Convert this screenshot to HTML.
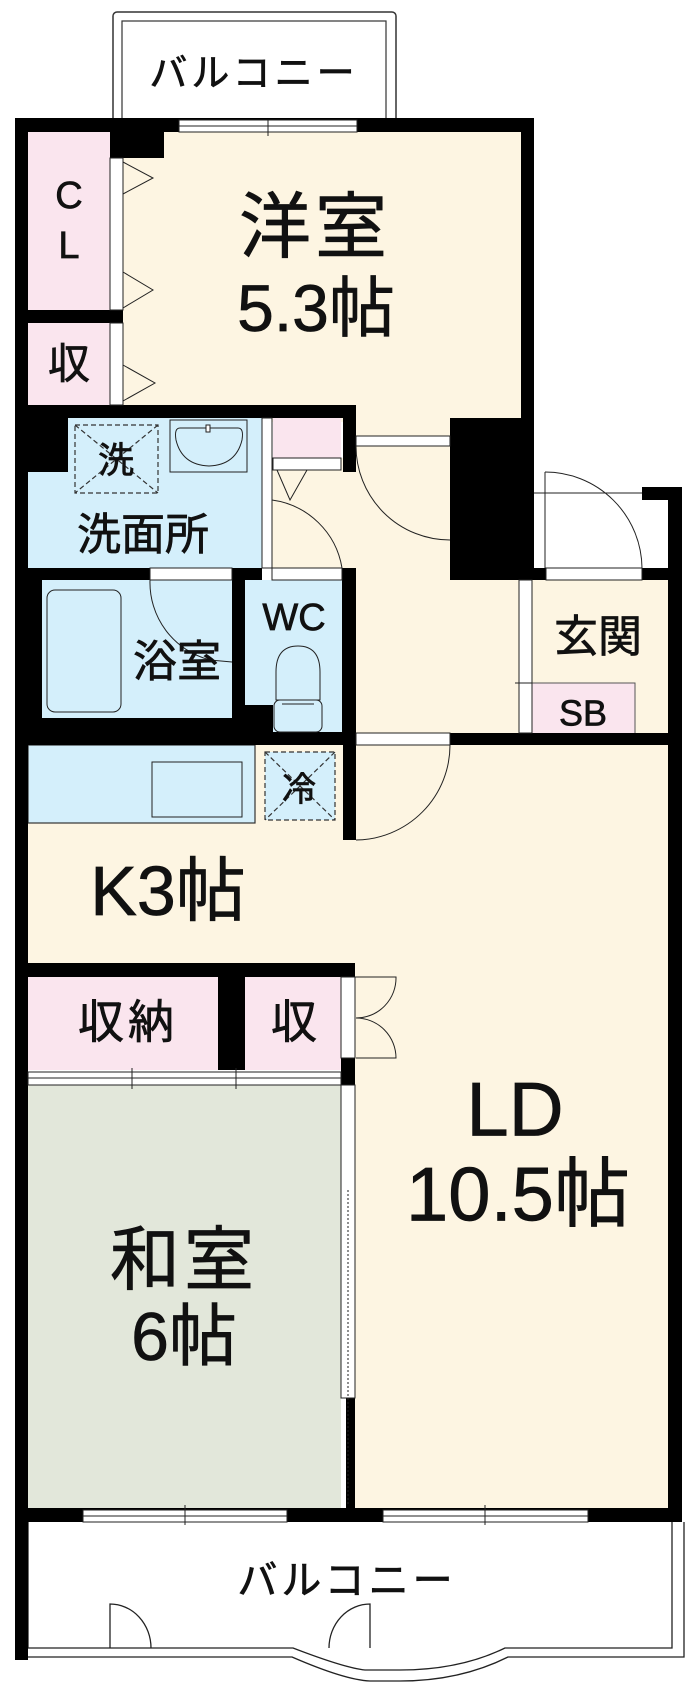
<!DOCTYPE html>
<html><head><meta charset="utf-8"><style>
html,body{margin:0;padding:0;background:#fff;}
svg{display:block;}
text{font-family:"Liberation Sans","Noto Sans CJK JP",sans-serif;fill:#111;stroke:#111;stroke-width:0.7;}
</style></head><body>
<svg width="700" height="1702" viewBox="0 0 700 1702" xmlns="http://www.w3.org/2000/svg">
<rect x="113" y="12" width="283" height="112" rx="4" fill="#fff" stroke="#333" stroke-width="1.5"/>
<rect x="122" y="21" width="264" height="103" fill="#fff" stroke="#333" stroke-width="1.2"/>
<text x="254" y="74" font-size="38" text-anchor="middle" dominant-baseline="central" letter-spacing="4">バルコニー</text>

<rect x="123" y="132" width="398" height="290" fill="#fdf5e2"/>
<rect x="356" y="418" width="165" height="330" fill="#fdf5e2"/>
<rect x="532" y="580" width="136" height="160" fill="#fdf5e2"/>
<rect x="28" y="745" width="640" height="220" fill="#fdf5e2"/>
<rect x="355" y="960" width="313" height="550" fill="#fdf5e2"/>
<rect x="272" y="458" width="84" height="115" fill="#fdf5e2"/>
<rect x="28" y="132" width="82" height="178" fill="#fae5ee"/>
<rect x="28" y="323" width="82" height="82" fill="#fae5ee"/>
<rect x="273" y="418" width="68" height="40" fill="#fae5ee"/>
<rect x="532" y="683" width="103" height="52" fill="#fae5ee" stroke="#555" stroke-width="1"/>
<rect x="28" y="977" width="190" height="93" fill="#fae5ee"/>
<rect x="245" y="977" width="96" height="93" fill="#fae5ee"/>
<rect x="28" y="418" width="234" height="152" fill="#d4effb"/>
<rect x="42" y="580" width="190" height="138" fill="#d4effb"/>
<rect x="245" y="580" width="97" height="152" fill="#d4effb"/>
<rect x="28" y="745" width="227" height="78" fill="#d4effb" stroke="#333" stroke-width="1.2"/>
<rect x="265" y="752" width="70" height="68" fill="#d4effb"/>
<rect x="28" y="1085" width="313" height="425" fill="#e2e7da"/>

<g fill="#000">
<rect x="15" y="118" width="519" height="14"/>
<rect x="15" y="118" width="13" height="1542"/>
<rect x="521" y="118" width="13" height="304"/>
<rect x="110" y="132" width="54" height="26"/>
<rect x="15" y="310" width="108" height="13"/>
<rect x="15" y="405" width="341" height="13"/>
<rect x="28" y="418" width="40" height="54"/>
<rect x="343" y="405" width="13" height="67"/>
<rect x="450" y="418" width="84" height="162"/>
<rect x="15" y="568" width="247" height="12"/>
<rect x="15" y="568" width="27" height="177"/>
<rect x="232" y="580" width="13" height="138"/>
<rect x="342" y="568" width="14" height="177"/>
<rect x="15" y="718" width="257" height="27"/>
<rect x="245" y="705" width="28" height="40"/>
<rect x="272" y="732" width="84" height="13"/>
<rect x="450" y="733" width="232" height="12"/>
<rect x="532" y="568" width="14" height="12"/>
<rect x="642" y="568" width="40" height="12"/>
<rect x="642" y="487" width="40" height="13"/>
<rect x="668" y="487" width="14" height="1035"/>
<rect x="343" y="745" width="13" height="95"/>
<rect x="15" y="963" width="340" height="14"/>
<rect x="218" y="977" width="27" height="93"/>
<rect x="341" y="1058" width="14" height="27"/>
<rect x="346" y="1398" width="9" height="112"/>
<rect x="15" y="1508" width="667" height="14"/>
</g>
<g fill="#fff" stroke="#222" stroke-width="1">
<rect x="110" y="158" width="13" height="152"/>
<rect x="110" y="323" width="13" height="82"/>
<rect x="262" y="418" width="10" height="150"/>
<rect x="273" y="458" width="68" height="12"/>
<rect x="356" y="436" width="94" height="10"/>
<rect x="150" y="568" width="82" height="12"/>
<rect x="272" y="568" width="70" height="12"/>
<rect x="546" y="568" width="96" height="12"/>
<rect x="519" y="580" width="13" height="153"/>
<rect x="356" y="733" width="94" height="12"/>
<rect x="341" y="977" width="14" height="81"/>
<rect x="28" y="1072" width="313" height="13"/>
<rect x="341" y="1085" width="14" height="313"/>
<rect x="179" y="120" width="178" height="12"/>
<rect x="83" y="1510" width="204" height="12"/>
<rect x="383" y="1510" width="205" height="12"/>
</g>
<g stroke="#222" stroke-width="1" fill="none">
<line x1="268" y1="120" x2="268" y2="136"/>
<line x1="179" y1="126" x2="357" y2="126"/>
<line x1="83" y1="1516" x2="287" y2="1516"/><line x1="185" y1="1505" x2="185" y2="1525"/>
<line x1="383" y1="1516" x2="588" y2="1516"/><line x1="485" y1="1505" x2="485" y2="1525"/>
<line x1="28" y1="1078" x2="341" y2="1078"/><line x1="132" y1="1068" x2="132" y2="1089"/><line x1="236" y1="1068" x2="236" y2="1089"/>
<line x1="348" y1="1190" x2="348" y2="1505" stroke-dasharray="2 2"/>
<polyline points="123,162 153,178 123,194"/>
<polyline points="123,272 153,290 123,308"/>
<polyline points="123,365 155,383 123,401"/>
<polyline points="277,470 290,500 307,470"/>
<path d="M356,446 A94,94 0 0 0 450,540 L450,540"/>
<path d="M272,500 A82,82 0 0 1 342,568"/>
<line x1="272" y1="500" x2="272" y2="568"/>
<path d="M150,580 A80,80 0 0 0 210,660 L232,662"/>
<path d="M545,472 A97,97 0 0 1 642,568"/><line x1="545" y1="472" x2="545" y2="568"/>
<line x1="534" y1="493" x2="642" y2="493"/>
<line x1="515" y1="683" x2="532" y2="683"/>
<path d="M450,745 A95,95 0 0 1 356,840"/>
<path d="M355,977 L396,977 A40,40 0 0 1 356,1018 A40,40 0 0 1 396,1058 L356,1058"/>
<rect x="170" y="420" width="77" height="52" fill="#d4effb"/>
<path d="M180,428 L238,428 Q244,428 242,440 Q236,465 209,466 Q182,465 176,440 Q174,428 180,428Z"/>
<rect x="206" y="425" width="4" height="7" fill="#fff"/>
<rect x="47" y="590" width="74" height="122" rx="8" fill="#d4effb"/>
<rect x="152" y="762" width="90" height="55"/>
<path d="M276,700 L276,672 Q276,646 298,646 Q320,646 320,672 L320,700Z"/>
<rect x="274" y="700" width="48" height="32" rx="6"/>
<line x1="282" y1="704" x2="314" y2="704"/>
</g>
<g stroke="#333" stroke-width="1.2" fill="none" stroke-dasharray="5 3">
<rect x="75" y="425" width="83" height="68"/>
<line x1="75" y1="425" x2="158" y2="493"/><line x1="158" y1="425" x2="75" y2="493"/>
<rect x="265" y="752" width="70" height="68"/>
<line x1="265" y1="752" x2="335" y2="820"/><line x1="335" y1="752" x2="265" y2="820"/>
</g>

<g stroke="#222" stroke-width="1.3" fill="none">
<path d="M28,1522 L28,1648 L293,1648 Q345,1668 365,1670 Q375,1670 400,1670 Q460,1670 505,1648 L672,1648 L672,1522"/>
<path d="M28,1657 L292,1657 Q345,1680 370,1681 L400,1681 Q460,1681 508,1657 L684,1657 L684,1522"/>
<path d="M110,1648 L110,1604 A41,44 0 0 1 151,1648"/>
<path d="M370,1648 L370,1604 A41,44 0 0 0 329,1648"/>
</g>
<rect x="15" y="1522" width="13" height="138" fill="#000"/>

<g text-anchor="middle" dominant-baseline="central">
<text x="347" y="1581" font-size="40" letter-spacing="4">バルコニー</text>
<text x="315" y="228" font-size="72" letter-spacing="4">洋室</text>
<text x="316" y="308" font-size="66">5.3帖</text>
<text x="69" y="196" font-size="38">C</text>
<text x="69" y="246" font-size="38">L</text>
<text x="69" y="364" font-size="42">収</text>
<text x="116" y="460" font-size="36">洗</text>
<text x="143" y="535" font-size="44">洗面所</text>
<text x="177" y="662" font-size="44">浴室</text>
<text x="294" y="618" font-size="38">WC</text>
<text x="299" y="790" font-size="34">冷</text>
<text x="598" y="637" font-size="44">玄関</text>
<text x="583" y="713" font-size="36">SB</text>
<text x="168" y="891" font-size="70">K3帖</text>
<text x="128" y="1022" font-size="46" letter-spacing="4">収納</text>
<text x="294" y="1022" font-size="46">収</text>
<text x="515" y="1110" font-size="76">LD</text>
<text x="518" y="1195" font-size="76">10.5帖</text>
<text x="184" y="1260" font-size="70" letter-spacing="4">和室</text>
<text x="184" y="1337" font-size="68">6帖</text>
</g>
</svg>
</body></html>
